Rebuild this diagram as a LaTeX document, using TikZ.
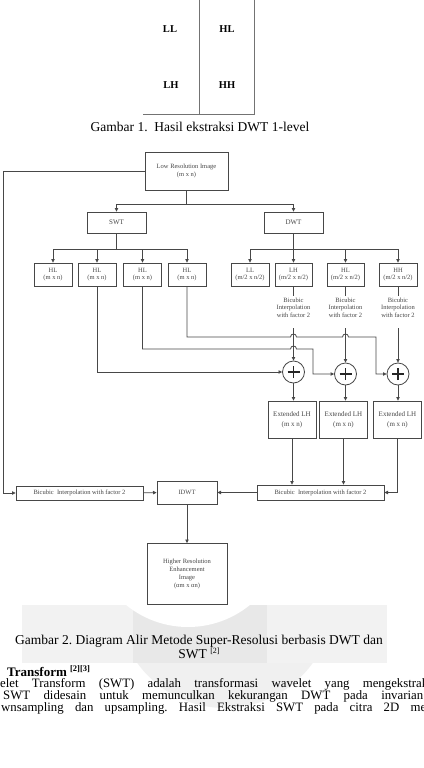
\documentclass[tikz,border=0pt]{standalone}
\usepackage{fontspec}
\setmainfont{Liberation Serif}
\usetikzlibrary{arrows.meta}
\frenchspacing
\begin{document}
\begin{tikzpicture}[x=1pt,y=-1pt,
  ln/.style={draw=black!72, line width=0.8pt},
  arr/.style={ln, -{Triangle[length=3.6pt,width=3.4pt]}},
  box/.style={ln, fill=white, inner sep=0pt, align=center, text=black!72,
    font=\fontsize{6.5}{7.5}\selectfont},
  lbl/.style={inner sep=0pt, align=center, text=black!72, font=\fontsize{6.5}{7.5}\selectfont},
  quad/.style={inner sep=0pt, font=\bfseries\fontsize{10.5}{12}\selectfont},
  plusc/.style={circle, ln, fill=white, minimum size=22pt, inner sep=0pt},
  pl/.style={line width=1.6pt, black!85},
  txt/.style={inner sep=0pt},
  body/.style={txt, anchor=base west, font=\fontsize{12.8}{14}\selectfont},
  wl/.style={draw=black!55, line width=0.9pt}]
\useasboundingbox (0,0) rectangle (423,768);
\fill[white] (0,0) rectangle (423,768);
% faint watermark
\fill[black!5] (22,605) rectangle (387,663);
\fill[black!9] (133,605) rectangle (267,663);
\begin{scope}
  \clip (0,605) rectangle (423,700);
  \fill[white] (188,529) circle[radius=98];
\end{scope}
\begin{scope}
  \clip (0,663) rectangle (423,768);
  \fill[black!6] (225,600) circle[radius=108];
\end{scope}
% ---------- Gambar 1 ----------
\coordinate (ga) at (199,0);
\coordinate (gb) at (199,114);
\coordinate (gc) at (143,114);
\coordinate (gd) at (254,114);
\coordinate (ge) at (254,0);
\draw[wl] (ga) -- (gb);
\draw[wl] (gc) -- (gd) -- (ge);
\node[quad] (qll) at (170,29) {LL};
\node[quad] (qhl) at (227,29) {HL};
\node[quad] (qlh) at (171,85) {LH};
\node[quad] (qhh) at (227,85) {HH};
\node[txt, anchor=base, font=\fontsize{13.5}{15}\selectfont] (cap1) at (200,131) {Gambar 1.\ \ Hasil ekstraksi DWT 1-level};
% ---------- Gambar 2 ----------
\node[box, minimum width=83pt, minimum height=38pt] (low) at (186.5,171) {Low Resolution Image\\[1pt](m x n)};
\node[box, minimum width=59pt, minimum height=21pt, font=\fontsize{7}{8}\selectfont] (swt) at (116.5,222.5) {SWT};
\node[box, minimum width=59pt, minimum height=21pt, font=\fontsize{7}{8}\selectfont] (dwt) at (293.5,222.5) {DWT};
\foreach \n/\x in {s1/53,s2/97,s3/142.5,s4/187}
  \node[box, minimum width=38pt, minimum height=23pt] (\n) at (\x,274.5) {HL\\(m x n)};
\node[box, minimum width=38pt, minimum height=23pt] (d1) at (250,274.5) {LL\\(m/2 x n/2)};
\node[box, minimum width=37pt, minimum height=23pt] (d2) at (293.5,274.5) {LH\\(m/2 x n/2)};
\node[box, minimum width=37pt, minimum height=23pt] (d3) at (345.5,274.5) {HL\\(m/2 x n/2)};
\node[box, minimum width=38pt, minimum height=23pt] (d4) at (398,274.5) {HH\\(m/2 x n/2)};
\foreach \n/\x in {t2/293.5,t3/345.5,t4/398}
  \node[lbl] (\n) at (\x,307.5) {Bicubic\\Interpolation\\with factor 2};
\coordinate (c2) at (293.5,328);
\coordinate (c3) at (345.5,328);
\coordinate (c4) at (398,328);
\node[plusc] (p1) at (293.5,372) {};
\node[plusc] (p2) at (345.5,374) {};
\node[plusc] (p3) at (398,374) {};
\foreach \p in {p1,p2,p3}
  \draw[pl] ([xshift=-6pt]\p.center) -- ([xshift=6pt]\p.center)
            ([yshift=-6pt]\p.center) -- ([yshift=6pt]\p.center);
\foreach \n/\x in {e1/292,e2/343.5,e3/397.5}
  \node[box, minimum width=48pt, minimum height=37pt, font=\fontsize{7}{10}\selectfont] (\n) at (\x,419.5) {Extended LH\\(m x n)};
\node[box, minimum width=127pt, minimum height=15pt] (br) at (320.5,492.5) {Bicubic\ \ Interpolation with factor 2};
\node[box, minimum width=127pt, minimum height=14pt] (bl) at (79.5,493) {Bicubic\ \ Interpolation with factor 2};
\node[box, minimum width=60pt, minimum height=23pt] (idwt) at (187,492.5) {IDWT};
\node[box, minimum width=80pt, minimum height=61pt, font=\fontsize{6.5}{7.8}\selectfont] (hr) at (187,574) {Higher Resolution\\Enhancement\\Image\\(αm x αn)};
% connectors
\coordinate (lc1) at (3,171);
\coordinate (lc2) at (3,493);
\draw[arr] (low.west) -- (lc1) -- (lc2) -- (bl.west);
\coordinate (j1) at (186.5,204);
\draw[ln] (low) -- (j1);
\draw[arr] (j1) -| (swt);
\draw[arr] (j1) -| (dwt);
\coordinate (j2) at (116.5,249);
\draw[ln] (swt) -- (j2);
\foreach \n in {s1,s2,s3,s4} \draw[arr] (j2) -| (\n);
\coordinate (j3) at (293.5,249);
\draw[ln] (dwt) -- (j3);
\foreach \n in {d1,d2,d3,d4} \draw[arr] (j3) -| (\n);
\draw[ln, shorten >=1.5pt] (d2) -- (t2);
\draw[ln, shorten >=1.5pt] (d3) -- (t3);
\draw[ln, shorten >=1.5pt] (d4) -- (t4);
\draw[arr] (c2) -- (p1);
\draw[arr] (c3) -- (p2);
\draw[arr] (c4) -- (p3);
\draw[arr] (s2) |- (p1);
\draw[arr] (s3.south) -- (142.5,349) -- (290.5,349) .. controls (290.5,345) and (296.5,345) .. (296.5,349)
  -- (313,349) -- (313,374) -- (p2.west);
\draw[arr] (s4.south) -- (187,337) -- (290.5,337) .. controls (290.5,333) and (296.5,333) .. (296.5,337)
  -- (342.5,337) .. controls (342.5,333) and (348.5,333) .. (348.5,337) -- (376,337) -- (376,374) -- (p3.west);
\draw[arr] (p1) -- (p1 |- e1.north);
\draw[arr] (p2) -- (p2 |- e2.north);
\draw[arr] (p3) -- (p3 |- e3.north);
\draw[arr] (e1) -- (e1 |- br.north);
\draw[arr] (e2) -- (e2 |- br.north);
\draw[arr] (e3) |- (br);
\draw[arr] (bl) -- (idwt);
\draw[arr] (br) -- (idwt);
\draw[arr] (idwt) -- (hr);
% ---------- captions and text ----------
\node[txt, anchor=base, font=\fontsize{13.5}{15}\selectfont] (cap2a) at (199,644) {Gambar 2. Diagram Alir Metode Super-Resolusi berbasis DWT dan};
\node[txt, anchor=base, font=\fontsize{13.5}{15}\selectfont] (cap2b) at (199,658) {SWT \raisebox{4.5pt}{\fontsize{8}{9}\selectfont[2]}};
\node[txt, anchor=base west, font=\bfseries\fontsize{13}{15}\selectfont] (head) at (7,676) {Transform \raisebox{4.5pt}{\fontsize{8.5}{9}\selectfont[2][3]}};
\node[body] (b1) at (0,687) {\makebox[428pt][s]{elet Transform (SWT) adalah transformasi wavelet yang mengekstrak}};
\node[body] (b2) at (3,699) {\makebox[420pt][s]{SWT didesain untuk memunculkan kekurangan DWT pada invarian}};
\node[body] (b3) at (1,711) {\makebox[425pt][s]{wnsampling dan upsampling. Hasil Ekstraksi SWT pada citra 2D me}};
\end{tikzpicture}
\end{document}
